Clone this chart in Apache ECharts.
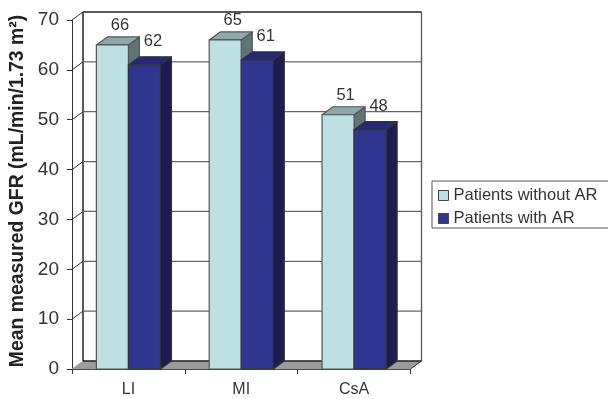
<!DOCTYPE html>
<html><head><meta charset="utf-8">
<style>html,body{margin:0;padding:0;background:#fff}#c{width:608px;height:399px}</style>
<script src="https://cdn.jsdelivr.net/npm/echarts@6/dist/echarts.min.js"></script>
</head><body><div id="c"></div>
<script>
const categories = ['LI', 'MI', 'CsA'];
const seriesNames = ['Patients without AR', 'Patients with AR'];
// bar heights as drawn in the picture
const heightsWithoutAR = [65, 66, 51];
const heightsWithAR = [61, 62, 48];
// numbers printed above the bars
const printedWithoutAR = ['66', '65', '51'];
const printedWithAR = ['62', '61', '48'];
const yTicks = [0, 10, 20, 30, 40, 50, 60, 70];

const FONT = '"Liberation Sans", Arial, sans-serif';
const DX = 11, DY = 8;           // oblique depth of the 3D look
const BAR_FRACTION = 0.284;
const TEXT = '#333';

const chart = echarts.init(document.getElementById('c'), null, {renderer: 'canvas'});

function poly(points, fill, stroke, lw) {
  return {type: 'polygon', shape: {points}, style: {fill, stroke, lineWidth: lw, lineJoin: 'round'}};
}
function line(x1, y1, x2, y2, stroke, lw) {
  return {type: 'line', shape: {x1, y1, x2, y2}, style: {stroke, lineWidth: lw}};
}

function barSeries(name, heights, printed, side, colors, labelDx, labelDy) {
  return {
    name, type: 'custom', z: 3,
    data: heights.map((h, i) => [i, h, printed[i]]),
    encode: {x: 0, y: 1},
    itemStyle: {color: colors.front, borderColor: '#444', borderWidth: 1},
    renderItem(params, api) {
      const base = api.coord([api.value(0), 0]);
      const top = api.coord([api.value(0), api.value(1)]);
      const w = api.size([1, 0])[0] * BAR_FRACTION;
      const x0 = side < 0 ? base[0] - w : base[0];
      const x1 = x0 + w, yb = base[1], yt = top[1];
      return {type: 'group', children: [
        poly([[x1, yb], [x1 + DX, yb - DY], [x1 + DX, yt - DY], [x1, yt]], colors.side, colors.edge, 1.2),
        poly([[x0, yt], [x0 + DX, yt - DY], [x1 + DX, yt - DY], [x1, yt]], colors.top, colors.edge, 1.2),
        poly([[x0, yb], [x0, yt], [x1, yt], [x1, yb]], colors.front, colors.edge, 1.2),
        {type: 'text', z2: 50, style: {
          text: String(printed[params.dataIndex]), x: base[0] + labelDx, y: yt + labelDy,
          font: '16.5px ' + FONT, fill: TEXT, align: 'center', verticalAlign: 'middle'
        }}
      ]};
    }
  };
}

const wallSeries = {
  type: 'custom', z: 1, silent: true,
  data: yTicks.map(t => [0, t]),
  encode: {x: 0, y: 1},
  renderItem(params, api) {
    const p = api.coord([0, api.value(1)]);
    const cs = params.coordSys;
    const xL = cs.x, xR = cs.x + cs.width, y = p[1];
    const kids = [];
    if (api.value(1) === 0) {
      kids.push(poly([[xL, y], [xL + DX, y - DY], [xR + DX, y - DY], [xR, y]], '#9b9b9b', '#9b9b9b', 0.5));
      kids.push(line(xL + DX, y - DY, xR + DX, y - DY, '#222', 1.5));
      kids.push(line(xL + DX, y - DY, xL + DX, cs.y - DY, '#222', 1.5));
      kids.push(line(xR + DX, y - DY, xR + DX, cs.y - DY, '#555', 1.3));
      kids.push(line(xR, y, xR + DX, y - DY, '#333', 1));
    } else {
      const top = api.value(1) === 70;
      kids.push(line(xL, y, xL + DX, y - DY, '#333', 1));
      kids.push(line(xL + DX, y - DY, xR + DX, y - DY, top ? '#222' : '#666', top ? 1.6 : 1.3));
    }
    return {type: 'group', children: kids};
  }
};

chart.setOption({
  animation: false,
  backgroundColor: '#fff',
  grid: {left: 72, right: 197.5, top: 20, bottom: 30, containLabel: false, outerBoundsMode: 'none'},
  xAxis: {
    type: 'category', data: categories,
    axisLine: {show: true, lineStyle: {color: '#333', width: 1.2}},
    axisTick: {show: true, length: 5, lineStyle: {color: '#333'}},
    axisLabel: {fontFamily: FONT, fontSize: 16, color: TEXT, margin: 13},
    splitLine: {show: false}
  },
  yAxis: {
    type: 'value', min: 0, max: 70, interval: 10,
    name: 'Mean measured GFR (mL/min/1.73 m\u00B2)',
    nameLocation: 'middle', nameRotate: 90, nameGap: 45,
    nameTextStyle: {fontFamily: FONT, fontSize: 19.4, fontWeight: 'bold', color: '#222', padding: [0, 0, 0, 7]},
    axisLine: {show: true, lineStyle: {color: '#333', width: 1}},
    axisTick: {show: true, length: 5, lineStyle: {color: '#333'}},
    axisLabel: {fontFamily: FONT, fontSize: 19, color: TEXT, margin: 13},
    splitLine: {show: false}
  },
  legend: {
    show: true, orient: 'vertical', left: 432, top: 181,
    data: seriesNames, icon: 'rect', itemWidth: 10, itemHeight: 10, itemGap: 6,
    padding: [6, 11, 1, 6], borderColor: '#555', borderWidth: 1, backgroundColor: '#fff',
    textStyle: {fontFamily: FONT, fontSize: 16.5, color: TEXT, padding: [0, 0, 0, 0]},
    itemStyle: {borderColor: '#444', borderWidth: 1}
  },
  series: [
    wallSeries,
    barSeries(seriesNames[0], heightsWithoutAR, printedWithoutAR, -1,
      {front: '#BDE0E4', top: '#8FA9AA', side: '#5F7474', edge: '#555'}, -8.5, -19.5),
    barSeries(seriesNames[1], heightsWithAR, printedWithAR, 1,
      {front: '#2E3691', top: '#262A75', side: '#1C1C50', edge: '#333'}, 24.5, -23)
  ]
});
</script></body></html>
